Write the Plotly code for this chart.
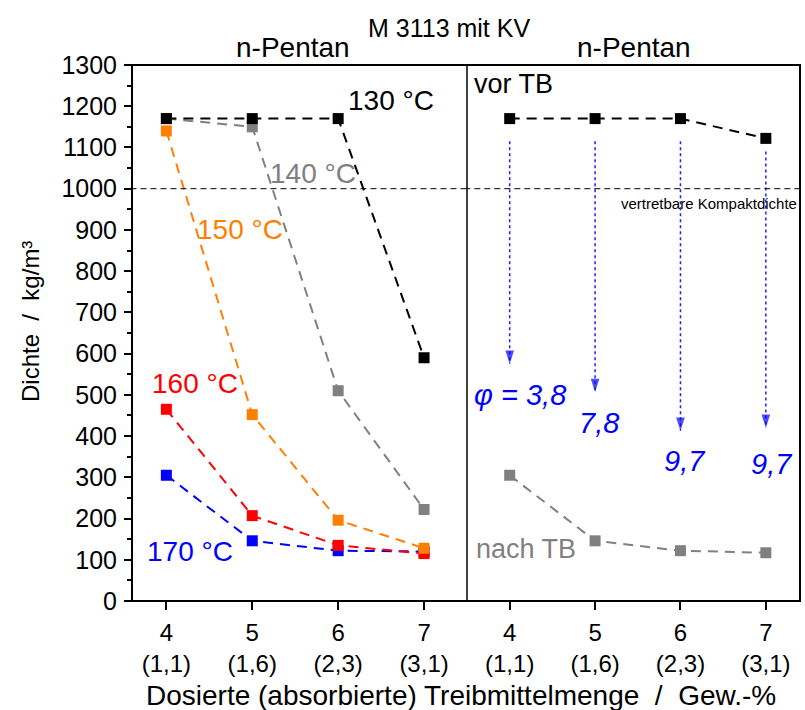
import plotly.graph_objects as go

x_vals = [4, 5, 6, 7]
x_ticktext = ["4<br>(1,1)", "5<br>(1,6)", "6<br>(2,3)", "7<br>(3,1)"]

d130 = [1170, 1170, 1170, 590]
d140 = [1170, 1150, 510, 222]
d150 = [1140, 452, 196, 128]
d160 = [465, 207, 135, 115]
d170 = [305, 146, 122, 120]

vor_tb = [1170, 1170, 1170, 1122]
nach_tb = [305, 146, 122, 117]

arrow_start = [1115, 1115, 1115, 1090]
arrow_end = [575, 507, 413, 420]
phi_labels = ["φ = 3,8", "7,8", "9,7", "9,7"]

compact_density = 1000

FONT = "Liberation Sans, Arial, sans-serif"
D = 0.5015
NB = "\u00a0"

fig = go.Figure()

def series(y, color, xa="x"):
    fig.add_trace(go.Scatter(
        x=x_vals, y=y, xaxis=xa, yaxis="y", mode="lines+markers",
        line=dict(color=color, width=2, dash="10px,7px"),
        marker=dict(symbol="square", size=11, color=color),
        showlegend=False, hoverinfo="skip"))

series(d170, "#0000FF")
series(d160, "#FF0000")
series(d150, "#FF8000")
series(d140, "#808080")
series(d130, "#000000")

series(nach_tb, "#808080", "x2")
series(vor_tb, "#000000", "x2")

for xv, ys, ye in zip(x_vals, arrow_start, arrow_end):
    fig.add_trace(go.Scatter(
        x=[xv, xv], y=[ys, ye], xaxis="x2", yaxis="y", mode="lines",
        line=dict(color="#2020FF", width=1.5, dash="dot"),
        showlegend=False, hoverinfo="skip"))
    fig.add_trace(go.Scatter(
        x=[xv], y=[ye], xaxis="x2", yaxis="y", mode="markers",
        marker=dict(symbol="arrow", angle=180, size=[14], color="#0000FF",
                    line=dict(width=0)),
        showlegend=False, hoverinfo="skip"))

for xa in ["x", "x2"]:
    fig.add_trace(go.Scatter(
        x=[3.0, 8.0], y=[compact_density, compact_density], xaxis=xa, yaxis="y",
        mode="lines", line=dict(color="#000000", width=1, dash="6px,4px"),
        showlegend=False, hoverinfo="skip"))

xtickfont = dict(family=FONT, size=24, color="black")
ytickfont = dict(family=FONT, size=25, color="black")

xcommon = dict(tickvals=x_vals, ticktext=x_ticktext,
               ticks="outside", ticklen=8, tickwidth=1.5, tickcolor="black",
               showgrid=False, zeroline=False, showline=False,
               tickfont=xtickfont, anchor="y", ticklabelstandoff=2)

fig.update_layout(
    width=805, height=710,
    margin=dict(l=132, r=5, t=65, b=109),
    paper_bgcolor="white", plot_bgcolor="white",
    font=dict(family=FONT, color="black"),
    xaxis=dict(domain=[0, D], range=[3.6, 7.5], **xcommon),
    xaxis2=dict(domain=[D, 1], range=[3.5, 7.4], **xcommon),
    yaxis=dict(range=[0, 1300], dtick=100, ticks="outside", ticklen=7, tickwidth=1.5,
               tickcolor="black", showgrid=False, zeroline=False, showline=False,
               minor=dict(dtick=50, ticks="outside", ticklen=4, tickwidth=1.5,
                          tickcolor="black"),
               tickfont=ytickfont, ticklabelstandoff=2),
)

fig.add_shape(type="rect", xref="paper", yref="paper", x0=0, x1=1, y0=0, y1=1,
              line=dict(color="black", width=2), layer="above")
fig.add_shape(type="line", xref="paper", yref="paper", x0=D, x1=D, y0=0, y1=1,
              line=dict(color="black", width=1.5), layer="above")

def px(xp):
    return (xp - 132) / 668
def py(yp):
    return (601 - yp) / 536

def ann(text, xp, yp, color="black", size=26, italic=False, angle=0):
    if italic:
        text = "<i>" + text + "</i>"
    fig.add_annotation(text=text, x=px(xp), y=py(yp), xref="paper", yref="paper",
                       xanchor="center", yanchor="middle", showarrow=False,
                       textangle=angle,
                       font=dict(family=FONT, size=size, color=color))

ann("M 3113 mit KV", 449, 28, size=25)
ann("n-Pentan", 293, 47, size=28)
ann("n-Pentan", 634, 47, size=28)

ann("130 °C", 391, 100, "#000000", 28)
ann("140 °C", 313, 173, "#808080", 28)
ann("150 °C", 240, 229, "#FF8000", 28)
ann("160 °C", 195, 383, "#FF0000", 28)
ann("170 °C", 190, 551, "#0000FF", 28)
ann("vor TB", 513, 84, "#000000", 27)
ann("nach TB", 526, 549, "#808080", 27)
ann("vertretbare Kompaktdichte", 709, 203, "#000000", 15)

phi_pos = [(520, 395), (599, 423), (685, 461), (772, 464)]
for lab, (xp, yp) in zip(phi_labels, phi_pos):
    ann(lab, xp, yp, "#0000FF", 29, italic=True)

ann("Dichte" + NB * 2 + "/" + NB * 2 + "kg/m³", 30, 322, size=24, angle=-90)
ann("Dosierte (absorbierte) Treibmittelmenge" + NB * 2 + "/" + NB * 2 + "Gew.-%",
    461, 695, size=28)

fig.write_html("out.html", config={"displayModeBar": False},
               post_script="document.body.style.margin='0';document.body.style.padding='0';")
